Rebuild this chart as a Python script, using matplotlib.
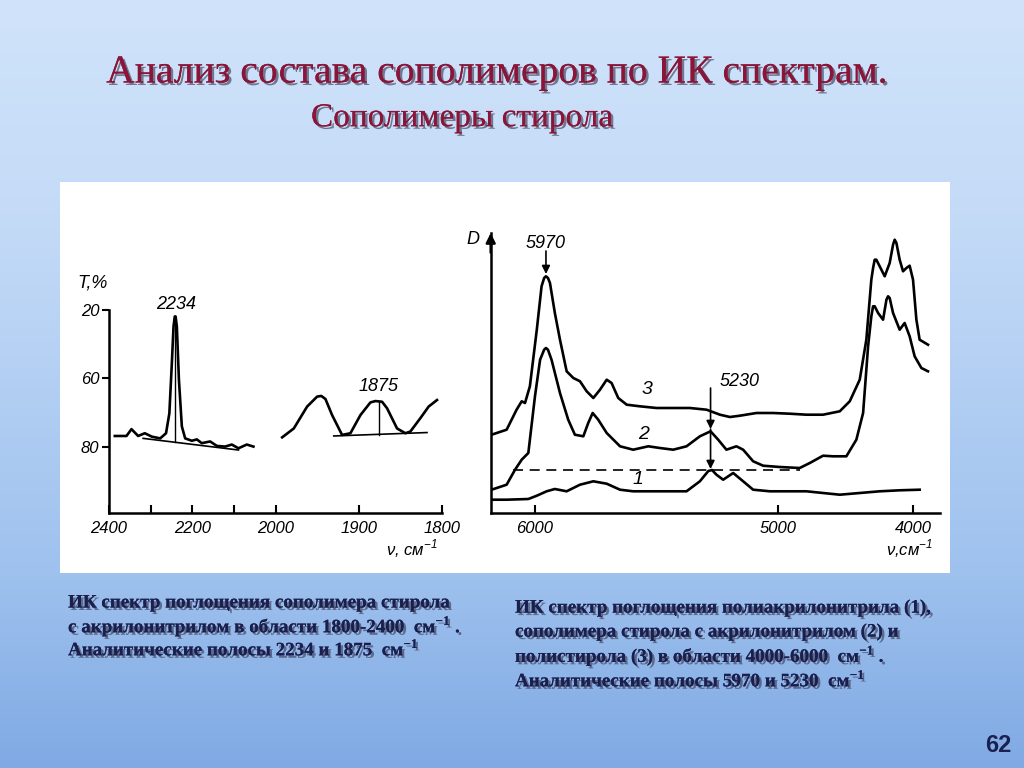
import numpy as np
import matplotlib
matplotlib.use('Agg')
import matplotlib.pyplot as plt
import matplotlib.patheffects as pe
from matplotlib.patches import Rectangle

# ---------------- data: left spectrum, T,% vs wavenumber ----------------
nu_left_a = [2386, 2358, 2346, 2330, 2314, 2297, 2277, 2263, 2255, 2249, 2245, 2242, 2240,
             2237, 2232, 2225, 2217, 2201, 2189, 2177, 2157, 2141, 2121, 2105, 2089,
             2069, 2053]
T_left_a = [76.8, 76.8, 74.8, 76.8, 76.0, 77.0, 77.5, 76.0, 70.2, 51.0, 29.7, 23.8, 23.8,
            29.7, 60.4, 74.0, 77.5, 78.2, 77.8, 78.9, 78.4, 79.7, 79.9, 79.3, 80.4,
            79.3, 79.9]
nu_left_b = [1992, 1978, 1962, 1950, 1945, 1940, 1932, 1920, 1910, 1898, 1886, 1880, 1872,
             1866, 1854, 1844, 1838, 1826, 1816, 1806]
T_left_b = [77.2, 74.6, 68.2, 65.3, 65.1, 66.0, 70.7, 76.5, 76.0, 70.7, 67.0, 66.6, 66.8,
            68.7, 74.6, 76.0, 75.5, 71.6, 68.2, 66.3]
base_left_a_nu = [2318, 2089]
base_left_a_T = [77.5, 80.9]
base_left_b_nu = [1930, 1818]
base_left_b_T = [76.8, 75.8]
peaks_left = [2241, 1876]
peaks_left_T = [23.5, 66.8]
peaks_left_base = [78.6, 76.4]
peak_labels_left = ['2234', '1875']
xticks_left = [2400, 2300, 2200, 2100, 2000, 1900, 1800]
xticklabels_left = ['2400', '', '2200', '', '2000', '1900', '1800']
yticks_left = [20, 60, 80]

# ---------------- data: right spectra, D vs wavenumber ----------------
nu_c3 = [6196, 6128, 6083, 6060, 6045, 6023, 5995, 5982, 5975, 5970, 5961, 5952, 5930,
         5907, 5877, 5847, 5817, 5787, 5757, 5727, 5697, 5675, 5645, 5607, 5548, 5473,
         5398, 5323, 5248, 5198, 5164, 5130, 5074, 5017, 4914, 4790, 4667, 4543, 4469,
         4395, 4346, 4309, 4296, 4284, 4272, 4247, 4210, 4173, 4148, 4136, 4123, 4099,
         4074, 4049, 4025, 4000, 3975, 3951, 3889]
D_c3 = [0.783, 0.833, 1.033, 1.117, 1.100, 1.267, 1.833, 2.267, 2.350, 2.367, 2.350,
        2.300, 2.000, 1.733, 1.417, 1.350, 1.317, 1.217, 1.150, 1.233, 1.333, 1.300,
        1.150, 1.083, 1.067, 1.050, 1.050, 1.050, 1.033, 0.983, 0.960, 0.973, 1.000,
        1.000, 0.993, 0.983, 0.983, 1.017, 1.117, 1.333, 1.733, 2.333, 2.450, 2.533,
        2.533, 2.467, 2.367, 2.500, 2.683, 2.733, 2.700, 2.533, 2.417, 2.450, 2.473,
        2.333, 1.933, 1.733, 1.683]
nu_c2 = [6196, 6128, 6090, 6060, 6030, 6000, 5986, 5975, 5970, 5961, 5945, 5907, 5870,
         5840, 5802, 5780, 5760, 5735, 5697, 5637, 5578, 5510, 5458, 5398, 5338, 5278,
         5230, 5204, 5176, 5142, 5119, 5085, 5051, 4988, 4840, 4765, 4667, 4593, 4494,
         4420, 4370, 4333, 4309, 4296, 4284, 4259, 4222, 4197, 4185, 4173, 4148, 4099,
         4062, 4025, 3988, 3938, 3889]
D_c2 = [0.233, 0.283, 0.433, 0.533, 0.600, 1.167, 1.533, 1.633, 1.650, 1.633, 1.533,
        1.200, 0.933, 0.783, 0.767, 0.900, 1.000, 0.933, 0.800, 0.667, 0.633, 0.667,
        0.650, 0.633, 0.667, 0.767, 0.817, 0.733, 0.633, 0.667, 0.633, 0.517, 0.473,
        0.460, 0.450, 0.500, 0.573, 0.567, 0.567, 0.733, 1.000, 1.667, 1.967, 2.067,
        2.067, 2.000, 1.933, 2.133, 2.167, 2.150, 2.000, 1.833, 1.900, 1.767, 1.567,
        1.450, 1.417]
nu_c1 = [6196, 6128, 6030, 5995, 5967, 5930, 5877, 5817, 5757, 5697, 5637, 5578, 5473,
         5338, 5278, 5240, 5225, 5210, 5187, 5153, 5119, 5085, 5028, 4914, 4790, 4667,
         4543, 4395, 4247, 4099, 3951]
D_c1 = [0.133, 0.133, 0.140, 0.173, 0.217, 0.240, 0.217, 0.283, 0.317, 0.293, 0.233,
        0.217, 0.217, 0.217, 0.317, 0.420, 0.430, 0.383, 0.333, 0.400, 0.317, 0.233,
        0.217, 0.217, 0.217, 0.200, 0.183, 0.200, 0.217, 0.227, 0.233]
dash_nu = [6098, 4840]
dash_D = [0.433, 0.433]
curve_labels = ['1', '2', '3']
curve_label_nu = [5555, 5533, 5518]
curve_label_D = [0.333, 0.783, 1.233]
xticks_right = [6000, 5000, 4000]

# ---------------- texts ----------------
title = 'Анализ состава сополимеров по ИК спектрам.'
subtitle = 'Сополимеры стирола'
caption_left = ['ИК спектр поглощения сополимера стирола',
                'с акрилонитрилом в области 1800-2400  см$^{\\mathregular{-1}}$ .',
                'Аналитические полосы 2234 и 1875  см$^{\\mathregular{-1}}$']
caption_right = ['ИК спектр поглощения полиакрилонитрила (1),',
                 'сополимера стирола с акрилонитрилом (2) и',
                 'полистирола (3) в области 4000-6000  см$^{\\mathregular{-1}}$ .',
                 'Аналитические полосы 5970 и 5230  см$^{\\mathregular{-1}}$']
page = '62'

W, H = 1024, 768
fig = plt.figure(figsize=(W / 100, H / 100), dpi=100)


def fr(x0, y0, x1, y1):
    return [x0 / W, 1 - y1 / H, (x1 - x0) / W, (y1 - y0) / H]


# background gradient
bg = fig.add_axes([0, 0, 1, 1], zorder=-10)
stops = np.array([0.0, 0.3, 0.75, 1.0])
cols = np.array([[208, 227, 250], [195, 218, 247], [158, 193, 238], [128, 170, 228]]) / 255
yy = np.linspace(0, 1, 400)
grad = np.stack([np.interp(yy, stops, cols[:, k]) for k in range(3)], axis=-1)
bg.imshow(grad[:, None, :], aspect='auto', extent=[0, 1, 0, 1], origin='upper')
bg.add_patch(Rectangle((60 / W, 1 - 573 / H), 890 / W, 391 / H, transform=bg.transAxes,
                       facecolor='white', edgecolor='none'))
bg.set_xlim(0, 1)
bg.set_ylim(0, 1)
bg.axis('off')

ink = 'black'
lw_curve = 1.9
font_chart = dict(family=['Liberation Sans', 'DejaVu Sans'], style='italic')


def pw_scale(kd, kp):
    """Piecewise-linear scale, monotonically increasing in data."""
    kd = np.asarray(kd, float)
    kp = np.asarray(kp, float)
    if kd[0] > kd[-1]:
        fwd = lambda x: -np.interp(-np.asarray(x, float), -kd, kp)
        inv = lambda p: np.interp(-np.asarray(p, float), kp, kd)
    else:
        fwd = lambda x: np.interp(np.asarray(x, float), kd, kp)
        inv = lambda p: np.interp(np.asarray(p, float), kp, kd)
    return fwd, inv


# ---------------- left chart ----------------
axl = fig.add_axes(fr(109, 310, 442, 513))
axl.set_facecolor('none')
axl.set_xscale('function', functions=pw_scale([2600, 2400, 2000, 1800, 1600],
                                               [-200, 0, 400, 800, 1200]))
axl.set_yscale('function', functions=pw_scale([0, 20, 60, 80, 100],
                                               [-0.5, 0, 1, 2, 3]))
axl.plot(nu_left_a, T_left_a, color=ink, lw=lw_curve, solid_joinstyle='round')
axl.plot(nu_left_b, T_left_b, color=ink, lw=lw_curve, solid_joinstyle='round')
axl.plot(base_left_a_nu, base_left_a_T, color=ink, lw=1.2)
axl.plot(base_left_b_nu, base_left_b_T, color=ink, lw=1.2)
for nu, t0, t1 in zip(peaks_left, peaks_left_T, peaks_left_base):
    axl.plot([nu, nu], [t0, t1], color=ink, lw=1.0)
axl.text(2238, 16.5, peak_labels_left[0], ha='center', va='center', fontsize=13,
         clip_on=False, **font_chart)
axl.text(1876, 62.3, peak_labels_left[1], ha='center', va='center', fontsize=13,
         clip_on=False, **font_chart)
axl.set_xlim(2400, 1800)
axl.set_ylim(99.3, 20)
axl.set_xticks(xticks_left)
axl.set_xticklabels(xticklabels_left)
axl.set_yticks(yticks_left)
axl.set_yticklabels([str(v) for v in yticks_left])
axl.tick_params(axis='x', direction='in', length=6, width=1.5, pad=6, labelsize=12)
axl.tick_params(axis='y', direction='out', length=5, width=1.5, pad=2, labelsize=12)
for lab in axl.get_xticklabels() + axl.get_yticklabels():
    lab.set_fontfamily(['Liberation Sans', 'DejaVu Sans'])
    lab.set_fontstyle('italic')
for s in ['top', 'right']:
    axl.spines[s].set_visible(False)
for s in ['left', 'bottom']:
    axl.spines[s].set_linewidth(1.8)
fig.text(93 / W, 1 - 283 / H, 'T,%', ha='center', va='center', fontsize=13, **font_chart)
fig.text(412 / W, 1 - 549 / H, 'ν, см$^{\\mathregular{-1}}$', ha='center', va='center',
         fontsize=12, **font_chart)

# ---------------- right chart ----------------
axr = fig.add_axes(fr(490.7, 233, 940, 513))
axr.set_facecolor('none')
axr.set_xscale('function', functions=pw_scale(
    [6400, 6200, 6000, 5970, 5230, 5000, 4000, 3800, 3600],
    [-44.3, 0, 44.3, 55.3, 220, 287.6, 422.6, 449.6, 476.6]))
axr.plot(nu_c3, D_c3, color=ink, lw=lw_curve, solid_joinstyle='round')
axr.plot(nu_c2, D_c2, color=ink, lw=lw_curve, solid_joinstyle='round')
axr.plot(nu_c1, D_c1, color=ink, lw=lw_curve, solid_joinstyle='round')
axr.plot(dash_nu, dash_D, color=ink, lw=1.2, dashes=(6, 4))
for lab, x, y in zip(curve_labels, curve_label_nu, curve_label_D):
    axr.text(x, y, lab, ha='center', va='center', fontsize=14, **font_chart)
arr = dict(arrowstyle='-|>', color=ink, lw=1.2, mutation_scale=12, shrinkA=0, shrinkB=0)
axr.annotate('', xy=(5970, 2.39), xytext=(5970, 2.62), arrowprops=arr)
axr.text(5970, 2.70, '5970', ha='center', va='center', fontsize=13, **font_chart)
axr.annotate('', xy=(5230, 0.84), xytext=(5230, 1.25), arrowprops=arr)
axr.annotate('', xy=(5230, 0.44), xytext=(5230, 0.84), arrowprops=arr)
axr.text(5130, 1.317, '5230', ha='center', va='center', fontsize=13, **font_chart)
axr.set_xlim(6200, 3800)
axr.set_ylim(0, 2.8)
axr.set_xticks(xticks_right)
axr.set_xticklabels([str(v) for v in xticks_right])
axr.set_yticks([])
axr.tick_params(axis='x', direction='in', length=6, width=1.5, pad=6, labelsize=12)
for lab in axr.get_xticklabels():
    lab.set_fontfamily(['Liberation Sans', 'DejaVu Sans'])
    lab.set_fontstyle('italic')
for s in ['top', 'right']:
    axr.spines[s].set_visible(False)
for s in ['left', 'bottom']:
    axr.spines[s].set_linewidth(1.8)
axr.annotate('', xy=(0, 1.0), xytext=(0, 0.93), xycoords='axes fraction',
             arrowprops=dict(arrowstyle='-|>', color=ink, lw=1.8, mutation_scale=14,
                             shrinkA=0, shrinkB=0), annotation_clip=False)
fig.text(473 / W, 1 - 240 / H, 'D', ha='center', va='center', fontsize=13, **font_chart)
fig.text(910 / W, 1 - 549 / H, 'ν,см$^{\\mathregular{-1}}$', ha='center', va='center',
         fontsize=12, **font_chart)

# ---------------- slide texts ----------------
shadow = [pe.withSimplePatchShadow(offset=(1.8, -1.8), shadow_rgbFace=(0.25, 0.25, 0.35),
                                   alpha=0.65), pe.Normal()]
serif = ['Liberation Serif', 'DejaVu Serif']
fig.text(497 / W, 1 - 73 / H, title, ha='center', va='center', fontsize=28.5,
         family=serif, color='#8a1538', path_effects=shadow)
fig.text(462 / W, 1 - 118 / H, subtitle, ha='center', va='center', fontsize=24,
         family=serif, color='#8a1538', path_effects=shadow)

cap_col = '#1a1f4e'
for i, line in enumerate(caption_left):
    fig.text(68 / W, 1 - (603 + 23 * i) / H, line, ha='left', va='center', fontsize=13.7,
             family=serif, weight='bold', color=cap_col, path_effects=shadow)
for i, line in enumerate(caption_right):
    fig.text(515 / W, 1 - (608 + 24 * i) / H, line, ha='left', va='center', fontsize=13.7,
             family=serif, weight='bold', color=cap_col, path_effects=shadow)
fig.text(1012 / W, 1 - 745 / H, page, ha='right', va='center', fontsize=17,
         family=['Liberation Sans', 'DejaVu Sans'], weight='bold', color='#1a2050')

fig.savefig('out.png', dpi=100)
